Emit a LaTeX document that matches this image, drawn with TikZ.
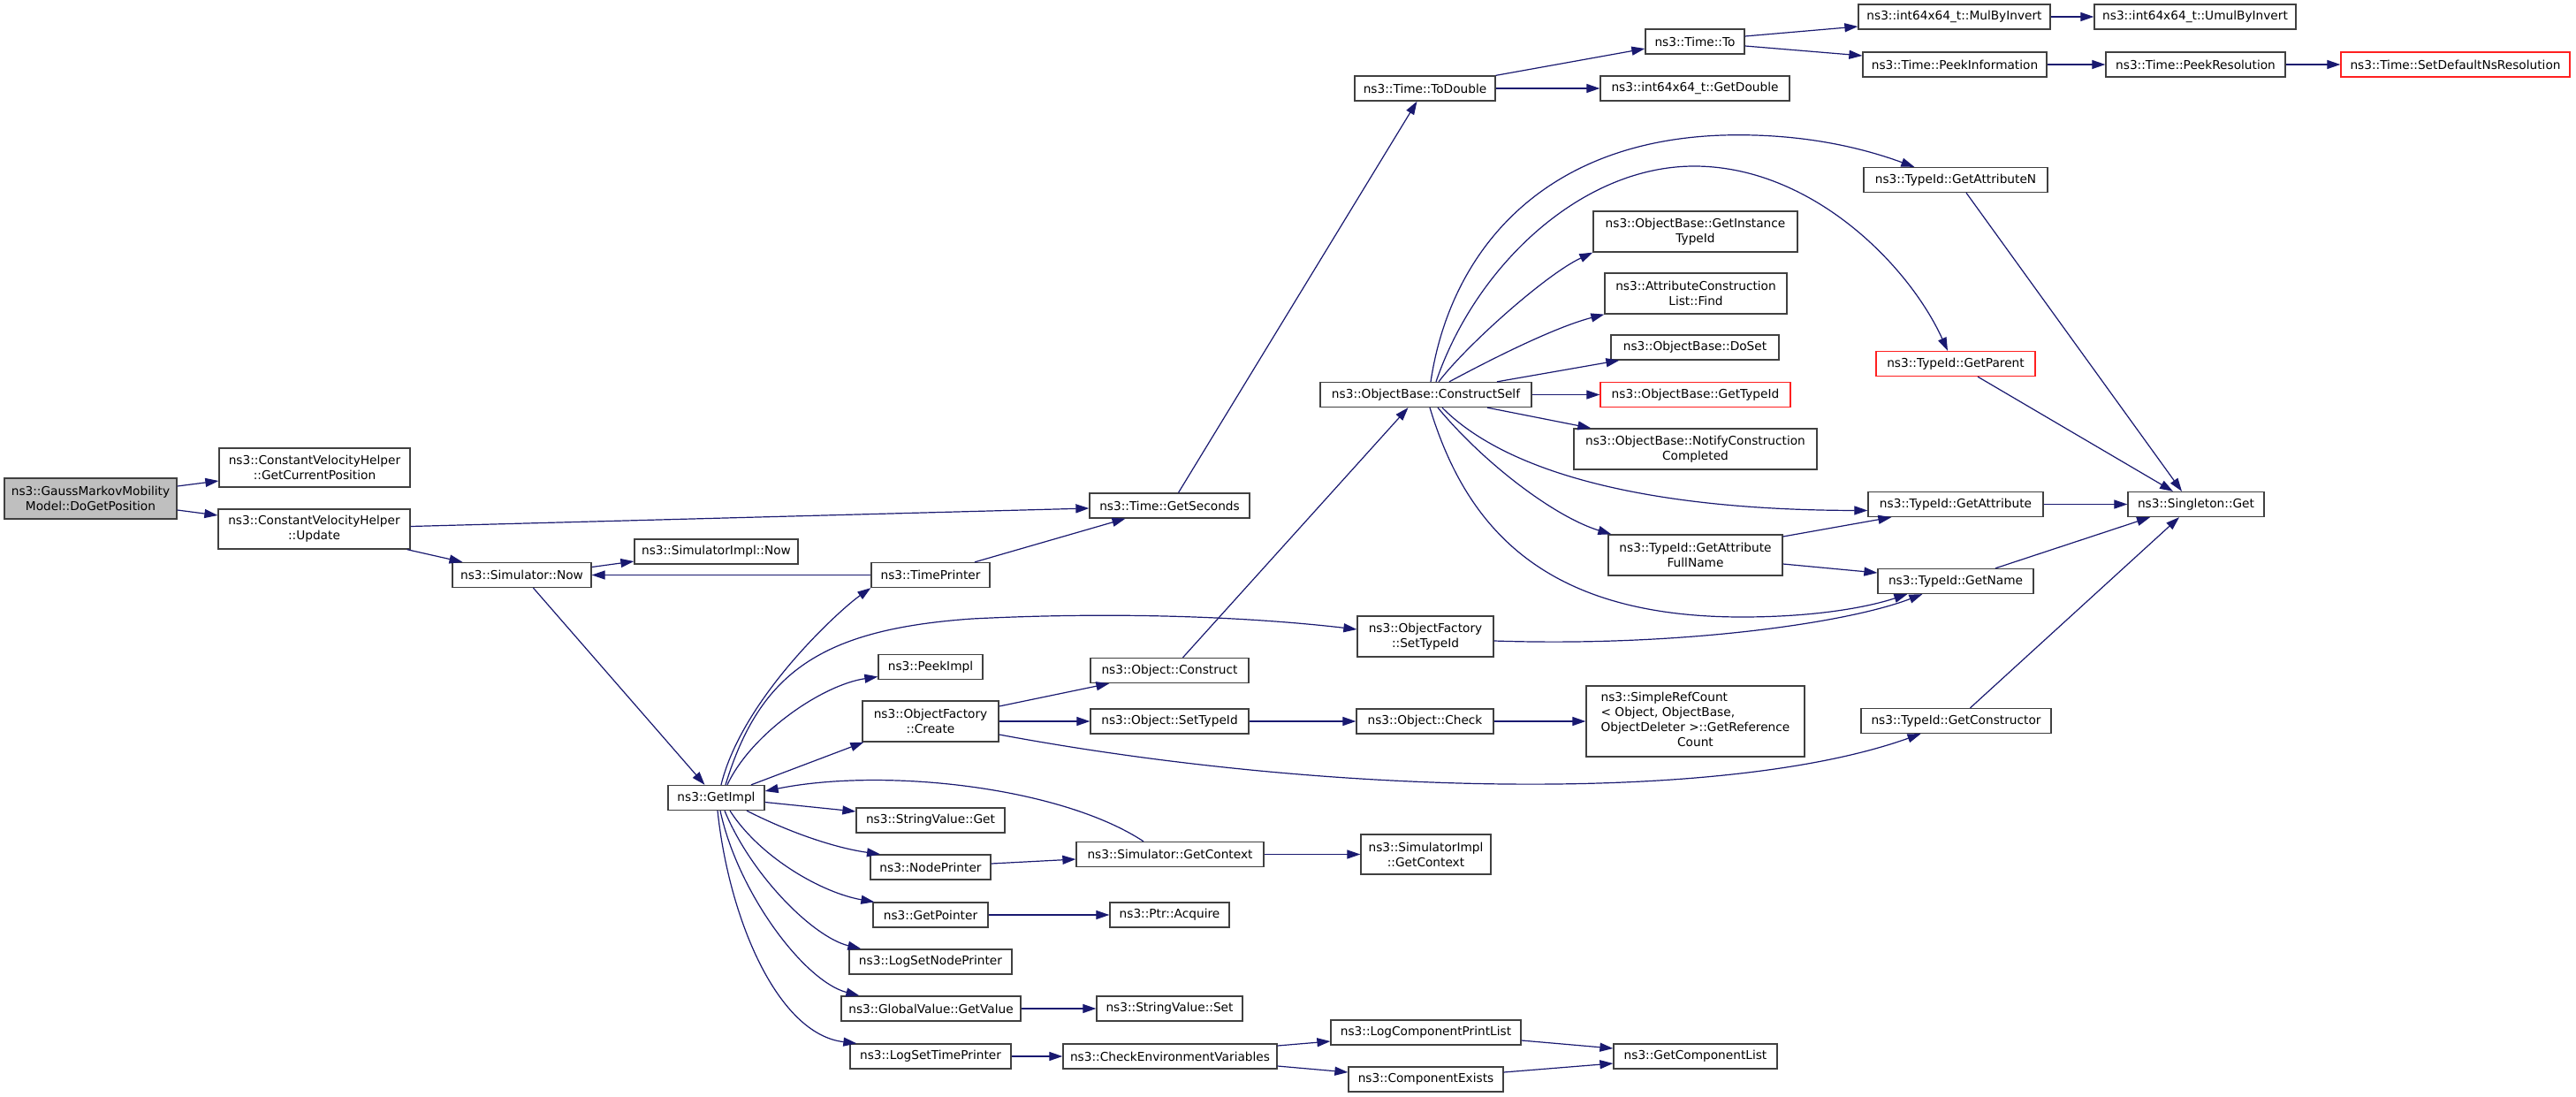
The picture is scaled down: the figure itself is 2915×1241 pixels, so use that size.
\documentclass[tikz,border=0pt]{standalone}
\usepackage{fontspec}
\setmainfont{DejaVu Sans}
\usetikzlibrary{arrows.meta}
\definecolor{edgecol}{HTML}{191970}
\definecolor{boxcol}{HTML}{404040}
\definecolor{redcol}{HTML}{FF2020}
\definecolor{rootfill}{HTML}{BFBFBF}
\begin{document}
\begin{tikzpicture}[x=1pt,y=-1pt,
  box/.style={draw=boxcol, line width=1.3pt, fill=white, inner sep=0pt, align=center,
    font=\fontsize{13.7}{17}\selectfont, minimum height=28pt},
  redbox/.style={box, draw=redcol},
  rootbox/.style={box, fill=rootfill},
  edge/.style={draw=edgecol, line width=1.2pt, -{Triangle[length=15pt,width=10pt]}}]
\useasboundingbox (0,0) rectangle (2915,1241);
\fill[white] (0,0) rectangle (2915,1241);

% nodes
\node[rootbox, minimum width=195pt, minimum height=46pt] (DoG) at (102.5,564) {ns3::GaussMarkovMobility\\Model::DoGetPosition};
\node[box, minimum width=216pt, minimum height=44pt] (GCP) at (356,529) {ns3::ConstantVelocityHelper\\::GetCurrentPosition};
\node[box, minimum width=217pt, minimum height=45pt] (Upd) at (355.5,598.5) {ns3::ConstantVelocityHelper\\::Update};
\node[box, minimum width=157pt] (SNow) at (590.5,650.5) {ns3::Simulator::Now};
\node[box, minimum width=185pt] (SINow) at (810.5,624) {ns3::SimulatorImpl::Now};
\node[box, minimum width=134pt] (TP) at (1053,650.5) {ns3::TimePrinter};
\node[box, minimum width=118pt] (PI) at (1053,754.5) {ns3::PeekImpl};
\node[box, minimum width=154pt, minimum height=46pt] (OFC) at (1053,816) {ns3::ObjectFactory\\::Create};
\node[box, minimum width=179pt] (OCons) at (1323.5,758.5) {ns3::Object::Construct};
\node[box, minimum width=179pt] (OSTI) at (1323.5,816) {ns3::Object::SetTypeId};
\node[box, minimum width=109pt] (GI) at (810.5,902.5) {ns3::GetImpl};
\node[box, minimum width=168pt] (SVG) at (1053,928) {ns3::StringValue::Get};
\node[box, minimum width=136pt] (NP) at (1053,981) {ns3::NodePrinter};
\node[box, minimum width=212pt] (SGC) at (1324,966.5) {ns3::Simulator::GetContext};
\node[box, minimum width=130pt] (GP) at (1053,1035) {ns3::GetPointer};
\node[box, minimum width=135pt] (PA) at (1323.5,1035) {ns3::Ptr::Acquire};
\node[box, minimum width=184pt] (LSNP) at (1053,1088) {ns3::LogSetNodePrinter};
\node[box, minimum width=203pt] (GVGV) at (1053.5,1141) {ns3::GlobalValue::GetValue};
\node[box, minimum width=165pt] (SVS) at (1323.5,1141) {ns3::StringValue::Set};
\node[box, minimum width=182pt] (LSTP) at (1053,1195) {ns3::LogSetTimePrinter};
\node[box, minimum width=242pt] (CEV) at (1324,1195) {ns3::CheckEnvironmentVariables};
\node[box, minimum width=147pt, minimum height=45pt] (SIGC) at (1613.5,966.5) {ns3::SimulatorImpl\\::GetContext};
\node[box, minimum width=215pt] (LCPL) at (1613.5,1168) {ns3::LogComponentPrintList};
\node[box, minimum width=175pt] (CE) at (1613.5,1221) {ns3::ComponentExists};
\node[box, minimum width=185pt] (GCL) at (1918.5,1195) {ns3::GetComponentList};
\node[box, minimum width=154pt, minimum height=46pt] (OFSTI) at (1613,720) {ns3::ObjectFactory\\::SetTypeId};
\node[box, minimum width=155pt] (OCheck) at (1612.5,816) {ns3::Object::Check};
\node[box, minimum width=247pt, minimum height=80pt] (SRC) at (1918.5,816) {\begin{tabular}{@{}l@{}}ns3::SimpleRefCount\\< Object, ObjectBase,\\\multicolumn{1}{@{}c@{}}{ ObjectDeleter >::GetReference}\\\multicolumn{1}{@{}c@{}}{Count}\end{tabular}};
\node[box, minimum width=239pt] (CS) at (1613.5,446.5) {ns3::ObjectBase::ConstructSelf};
\node[box, minimum width=231pt, minimum height=46pt] (GITI) at (1918.5,262) {ns3::ObjectBase::GetInstance\\TypeId};
\node[box, minimum width=206pt, minimum height=46pt] (ACLF) at (1919,332) {ns3::AttributeConstruction\\List::Find};
\node[box, minimum width=190pt] (DoSet) at (1918,393) {ns3::ObjectBase::DoSet};
\node[redbox, minimum width=215pt] (GTI) at (1918.5,446.5) {ns3::ObjectBase::GetTypeId};
\node[box, minimum width=275pt, minimum height=46pt] (NCC) at (1918.5,508) {ns3::ObjectBase::NotifyConstruction\\Completed};
\node[box, minimum width=197pt, minimum height=46pt] (GAFN) at (1918.5,628) {ns3::TypeId::GetAttribute\\FullName};
\node[box, minimum width=208pt] (GAN) at (2213,203.5) {ns3::TypeId::GetAttributeN};
\node[redbox, minimum width=180pt] (GPar) at (2213,411.5) {ns3::TypeId::GetParent};
\node[box, minimum width=198pt] (GA) at (2213,570.5) {ns3::TypeId::GetAttribute};
\node[box, minimum width=154pt] (SG) at (2485,570.5) {ns3::Singleton::Get};
\node[box, minimum width=176pt] (GN) at (2213,657.5) {ns3::TypeId::GetName};
\node[box, minimum width=215pt] (GC) at (2213.5,815.5) {ns3::TypeId::GetConstructor};
\node[box, minimum width=181pt] (GS) at (1323.5,572) {ns3::Time::GetSeconds};
\node[box, minimum width=159pt] (TD) at (1612.5,100) {ns3::Time::ToDouble};
\node[box, minimum width=112pt] (To) at (1918,47) {ns3::Time::To};
\node[box, minimum width=217pt] (MBI) at (2211.5,19) {ns3::int64x64\_t::MulByInvert};
\node[box, minimum width=228pt] (UBI) at (2484,19) {ns3::int64x64\_t::UmulByInvert};
\node[box, minimum width=208pt] (PInf) at (2212,73) {ns3::Time::PeekInformation};
\node[box, minimum width=203pt] (PRes) at (2484.5,73) {ns3::Time::PeekResolution};
\node[redbox, minimum width=259pt] (SDNR) at (2778.5,73) {ns3::Time::SetDefaultNsResolution};
\node[box, minimum width=214pt] (GD) at (1918,100) {ns3::int64x64\_t::GetDouble};

% edges
\draw[edge] ([yshift=14pt]DoG.east) -- ([yshift=-15pt]GCP.west);
\draw[edge] ([yshift=-13pt]DoG.east) -- ([yshift=15.5pt]Upd.west);
\draw[edge] ([yshift=3pt]Upd.east) -- ([yshift=-3pt]GS.west);
\draw[edge] ([xshift=-4pt]Upd.south east) -- ([xshift=-67pt]SNow.north);
\draw[edge] ([yshift=9pt]SNow.east) -- ([yshift=-11pt]SINow.west);
\draw[edge] ([xshift=13pt]SNow.south) -- ([xshift=-13pt]GI.north);
\draw[edge] (TP.west) -- (SNow.east);
\draw[edge] ([xshift=50pt]TP.north) -- ([xshift=-50pt]GS.south);
\draw[edge] ([xshift=10pt]GS.north) -- ([xshift=-9pt]TD.south);
\draw[edge] (TD.north east) -- ([yshift=-8pt]To.west);
\draw[edge] (TD.east) -- (GD.west);
\draw[edge] ([yshift=6pt]To.east) -- ([yshift=-11pt]MBI.west);
\draw[edge] ([yshift=-5pt]To.east) -- ([yshift=10pt]PInf.west);
\draw[edge] (MBI.east) -- (UBI.west);
\draw[edge] (PInf.east) -- (PRes.west);
\draw[edge] (PRes.east) -- (SDNR.west);

% GetImpl fan
\draw[edge] ([xshift=5.5pt]GI.north) .. controls (840,790) and (950,690) .. (TP.south west);
\draw[edge] ([xshift=10.5pt]GI.north) .. controls (860,760) and (930,712) .. (1100,700) .. controls (1300,690) and (1450,702) .. ([yshift=8pt]OFSTI.west);
\draw[edge] ([xshift=12.5pt]GI.north) .. controls (850,830) and (930,775) .. ([yshift=-11pt]PI.west);
\draw[edge] ([xshift=39.5pt]GI.north) -- ([xshift=2pt]OFC.south west);
\draw[edge] ([xshift=-30pt]SGC.north) .. controls (1200,890) and (1000,868) .. ([yshift=7.5pt]GI.east);
\draw[edge] ([yshift=-5pt]GI.east) -- ([yshift=10pt]SVG.west);
\draw[edge] ([xshift=34.5pt]GI.south) .. controls (900,945) and (950,960) .. ([xshift=-57pt]NP.north);
\draw[edge] ([xshift=15.5pt]GI.south) .. controls (860,970) and (930,1010) .. ([xshift=2pt]GP.north west);
\draw[edge] ([xshift=9.5pt]GI.south) .. controls (850,990) and (920,1060) .. ([xshift=14pt]LSNP.north west);
\draw[edge] ([xshift=4.5pt]GI.south) .. controls (835,1010) and (910,1110) .. ([xshift=21pt]GVGV.north west);
\draw[edge] ([xshift=1.5pt]GI.south) .. controls (825,1040) and (880,1170) .. ([xshift=8pt]LSTP.north west);

\draw[edge] ([yshift=4pt]NP.east) -- ([yshift=-5.5pt]SGC.west);
\draw[edge] (SGC.east) -- (SIGC.west);
\draw[edge] (GP.east) -- (PA.west);
\draw[edge] (GVGV.east) -- (SVS.west);
\draw[edge] (LSTP.east) -- (CEV.west);
\draw[edge] ([yshift=12pt]CEV.east) -- ([yshift=-10pt]LCPL.west);
\draw[edge] ([yshift=-11pt]CEV.east) -- ([yshift=8pt]CE.west);
\draw[edge] ([yshift=-9pt]LCPL.east) -- ([yshift=9pt]GCL.west);
\draw[edge] ([yshift=8pt]CE.east) -- ([yshift=-8pt]GCL.west);

% ObjectFactory::Create
\draw[edge] ([yshift=17pt]OFC.east) -- ([xshift=22pt]OCons.south west);
\draw[edge] (OFC.east) -- (OSTI.west);
\draw[edge] ([yshift=-15pt]OFC.east) .. controls (1500,900) and (1950,910) .. ([xshift=-40pt]GC.south);
\draw[edge] ([xshift=15pt]OCons.north) -- ([xshift=-20pt]CS.south);
\draw[edge] (OSTI.east) -- (OCheck.west);
\draw[edge] (OCheck.east) -- (SRC.west);

% ConstructSelf fan
\draw[edge] ([xshift=5.5pt]CS.north) .. controls (1640,290) and (1740,160) .. (1949,153) .. controls (2050,150) and (2120,172) .. ([xshift=58pt]GAN.north west);
\draw[edge] ([xshift=11.5pt]CS.north) .. controls (1670,300) and (1790,188) .. (1917,188) .. controls (2050,188) and (2160,300) .. ([xshift=-9pt]GPar.north);
\draw[edge] ([xshift=14.5pt]CS.north) .. controls (1660,390) and (1750,310) .. (GITI.south west);
\draw[edge] ([xshift=26.5pt]CS.north) .. controls (1690,405) and (1760,370) .. (ACLF.south west);
\draw[edge] ([xshift=80.5pt]CS.north) -- ([xshift=10pt]DoSet.south west);
\draw[edge] (CS.east) -- (GTI.west);
\draw[edge] ([xshift=69.5pt]CS.south) -- ([xshift=20pt]NCC.north west);
\draw[edge] ([xshift=18.5pt]CS.south) .. controls (1700,530) and (1850,577) .. ([yshift=-7pt]GA.west);
\draw[edge] ([xshift=13.5pt]CS.south) .. controls (1680,525) and (1760,585) .. ([xshift=4pt]GAFN.north west);
\draw[edge] ([xshift=4.5pt]CS.south) .. controls (1660,600) and (1750,698) .. (1971,698) .. controls (2050,698) and (2110,688) .. ([xshift=34pt]GN.south west);
\draw[edge] ([yshift=21pt]GAFN.east) -- ([xshift=27pt]GA.south west);
\draw[edge] ([yshift=-10pt]GAFN.east) -- ([yshift=9.5pt]GN.west);
\draw[edge] ([yshift=-5pt]OFSTI.east) .. controls (1900,732) and (2090,705) .. ([xshift=51pt]GN.south west);

% Singleton::Get
\draw[edge] ([xshift=12pt]GAN.south) -- ([xshift=-16pt]SG.north);
\draw[edge] ([xshift=25pt]GPar.south) -- ([xshift=-26pt]SG.north);
\draw[edge] (GA.east) -- (SG.west);
\draw[edge] ([xshift=45pt]GN.north) -- ([xshift=-52pt]SG.south);
\draw[edge] ([xshift=16pt]GC.north) -- ([xshift=-19pt]SG.south);
\end{tikzpicture}
\end{document}
